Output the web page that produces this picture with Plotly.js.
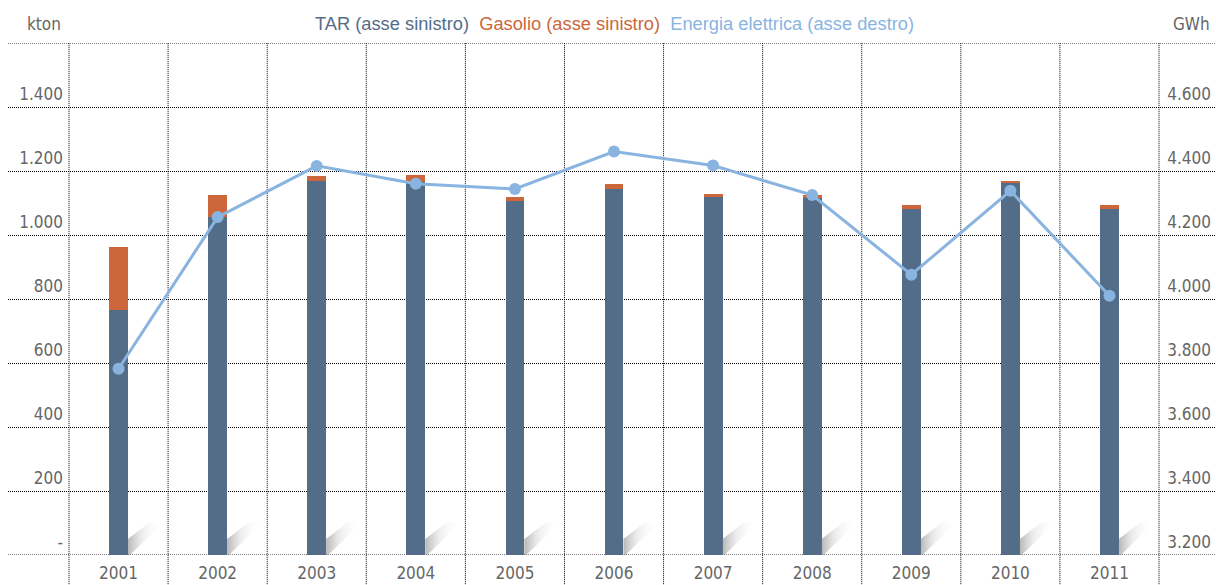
<!DOCTYPE html>
<html>
<head>
<meta charset="utf-8">
<script src="https://cdn.plot.ly/plotly-3.0.1.min.js"></script>
<style>
  html, body { margin: 0; padding: 0; background: #ffffff; }
  #chart { width: 1216px; height: 585px; }
</style>
</head>
<body>
<div id="chart"></div>
<script>
// Anni
const years = ['2001', '2002', '2003', '2004', '2005', '2006', '2007', '2008', '2009', '2010', '2011'];

// Consumi (kton, asse sinistro)
const tarKton = [766, 1056, 1169, 1167, 1107, 1144, 1119, 1116, 1082, 1163, 1082];
const gasolioKton = [197, 70, 16, 20, 12, 16, 10, 10, 12, 6, 12];

// Energia elettrica (GWh, asse destro)
const energiaGWh = [3782, 4256, 4416, 4360, 4344, 4461, 4417, 4325, 4076, 4338, 4010];

// Nomi delle serie
const seriesNames = ['TAR (asse sinistro)', 'Gasolio (asse sinistro)', 'Energia elettrica (asse destro)'];

// Tacche degli assi
const leftTickVals = [0, 200, 400, 600, 800, 1000, 1200, 1400, 1600];
const leftTickText = ['-', '200', '400', '600', '800', '1.000', '1.200', '1.400', ''];
const rightTickVals = [3200, 3400, 3600, 3800, 4000, 4200, 4400, 4600, 4800];
const rightTickText = ['3.200', '3.400', '3.600', '3.800', '4.000', '4.200', '4.400', '4.600', ''];
const leftUnit = 'kton';
const rightUnit = 'GWh';

const COL_TAR = '#536d89';
const COL_GAS = '#cb673b';
const COL_EN = '#89b4df';
const NARROW = '"Liberation Sans Narrow", "DejaVu Sans Condensed", "Arial Narrow", sans-serif';
const SANS = '"Liberation Sans", Arial, sans-serif';
const GRID_DASH = '1px,1px';
const GRID_COL = '#000';
const LABEL_COL = '#666';

const xIdx = years.map((_, i) => i);
const BAR_W = 0.19;

const traces = [];

// Ombra decorativa alla base di ogni colonna
xIdx.forEach(i => {
  const r = i + BAR_W / 2;
  const px = 1 / 99.1;      // unità x per pixel
  const py = 1 / 0.3198;    // kton per pixel
  traces.push({
    type: 'scatter', mode: 'none',
    x: [r, r, r + 22 * px, r + 35 * px, r + 2 * px, r],
    y: [0, 16 * py, 33 * py, 32 * py, 0, 0],
    fill: 'toself',
    fillgradient: {
      type: 'horizontal',
      colorscale: [[0, 'rgba(135,135,135,0.6)'], [0.4, 'rgba(205,205,205,0.35)'], [1, 'rgba(255,255,255,0)']]
    },
    hoverinfo: 'skip', showlegend: false, yaxis: 'y'
  });
});

traces.push({
  type: 'bar', name: seriesNames[0], x: xIdx, y: tarKton,
  width: BAR_W, marker: { color: COL_TAR, line: { width: 0 } }, yaxis: 'y'
});
traces.push({
  type: 'bar', name: seriesNames[1], x: xIdx, y: gasolioKton,
  width: BAR_W, marker: { color: COL_GAS, line: { width: 0 } }, yaxis: 'y'
});
traces.push({
  type: 'scatter', mode: 'lines+markers', name: seriesNames[2], x: xIdx, y: energiaGWh,
  line: { color: COL_EN, width: 3 }, marker: { color: COL_EN, size: 12 }, yaxis: 'y2'
});

const shapes = [];
// Linee verticali tra le categorie
for (let k = 0; k <= years.length; k++) {
  shapes.push({
    type: 'line', xref: 'x', yref: 'paper',
    x0: k - 0.5, x1: k - 0.5, y0: -0.1, y1: 1,
    line: { color: GRID_COL, width: 1, dash: GRID_DASH }, layer: 'below'
  });
}
// Linee orizzontali ai bordi dell'area del grafico
[leftTickVals[0], leftTickVals[leftTickVals.length - 1]].forEach(v => {
  shapes.push({
    type: 'line', xref: 'paper', yref: 'y',
    x0: 0, x1: 1, y0: v, y1: v,
    line: { color: GRID_COL, width: 1, dash: GRID_DASH }, layer: 'below'
  });
});

// Titolo con i nomi delle serie colorati
const legendColors = [COL_TAR, COL_GAS, COL_EN];
const titleText = seriesNames
  .map((n, i) => `<span style="color:${legendColors[i]}">${n}</span>`)
  .join('\u00a0\u00a0');

const tickFont = { family: NARROW, size: 17, color: LABEL_COL };

const layout = {
  width: 1216, height: 585,
  margin: { l: 8, r: 0, t: 43, b: 30, pad: 0 },
  paper_bgcolor: '#ffffff', plot_bgcolor: '#ffffff',
  barmode: 'stack',
  showlegend: false,
  separators: ',.',
  font: { family: NARROW, color: LABEL_COL, size: 17 },
  title: {
    text: titleText,
    font: { family: SANS, size: 18.3 },
    x: 614.5 / 1216, xanchor: 'center', xref: 'container',
    y: 1 - 24 / 585, yanchor: 'middle'
  },
  xaxis: {
    range: [-1.1156, 11.075],
    tickvals: xIdx, ticktext: years,
    showgrid: false, zeroline: false, showline: false, ticks: '',
    ticklabelstandoff: 6,
    tickfont: tickFont,
    fixedrange: true
  },
  yaxis: {
    range: [0, 1600],
    tickvals: leftTickVals, ticktext: leftTickText,
    anchor: 'free', position: 55 / 1208, side: 'left',
    showgrid: true, gridcolor: GRID_COL, gridwidth: 1, griddash: GRID_DASH,
    zeroline: false, showline: false, ticks: '',
    ticklabelshift: -13,
    tickfont: tickFont,
    fixedrange: true
  },
  yaxis2: {
    range: [3200, 4800],
    tickvals: rightTickVals, ticktext: rightTickText,
    overlaying: 'y', anchor: 'free', position: 1203 / 1208, side: 'left',
    showgrid: false, zeroline: false, showline: false, ticks: '',
    ticklabelshift: -13,
    tickfont: tickFont,
    fixedrange: true
  },
  shapes: shapes,
  annotations: [
    { text: leftUnit, xref: 'paper', yref: 'paper', x: 55 / 1208, y: 1 + 19 / 512,
      xanchor: 'right', yanchor: 'middle', showarrow: false,
      font: tickFont },
    { text: rightUnit, xref: 'paper', yref: 'paper', x: 1, y: 1 + 19 / 512,
      xanchor: 'right', yanchor: 'middle', showarrow: false, xshift: -4,
      font: tickFont }
  ]
};

Plotly.newPlot('chart', traces, layout, { displayModeBar: false, staticPlot: true });
</script>
</body>
</html>
